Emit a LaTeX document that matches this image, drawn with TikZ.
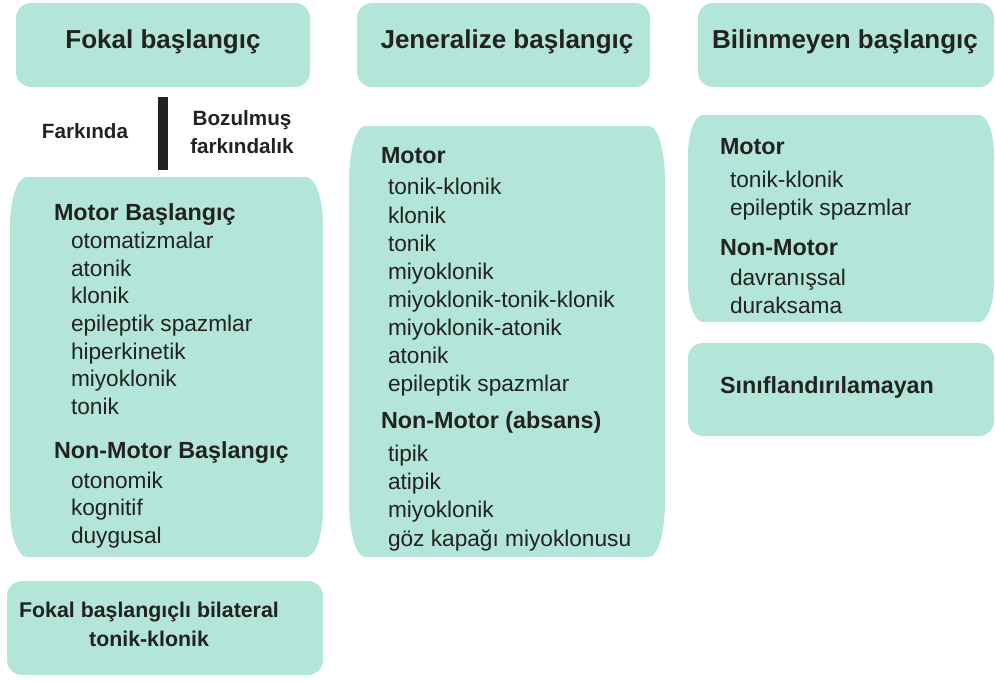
\documentclass[tikz,border=0pt]{standalone}
\usepackage{fontspec}
\setmainfont{Liberation Sans}
\begin{document}
\definecolor{mint}{HTML}{B3E6D8}
\definecolor{ink}{HTML}{222222}
% Soft panel with elliptical corners: x1,y1,x2,y2,rx,ry
\newcommand\softpanel[6]{%
  \fill[mint] (#1+#5,#2) -- (#3-#5,#2)
    .. controls (#3-0.448*#5,#2) and (#3,#2+0.448*#6) .. (#3,#2+#6)
    -- (#3,#4-#6)
    .. controls (#3,#4-0.448*#6) and (#3-0.448*#5,#4) .. (#3-#5,#4)
    -- (#1+#5,#4)
    .. controls (#1+0.448*#5,#4) and (#1,#4-0.448*#6) .. (#1,#4-#6)
    -- (#1,#2+#6)
    .. controls (#1,#2+0.448*#6) and (#1+0.448*#5,#2) .. (#1+#5,#2) -- cycle;}
\begin{tikzpicture}[x=0.75pt,y=-0.75pt,
  every node/.style={inner sep=0pt,outer sep=0pt,text=ink},
  title/.style={font=\fontsize{19.5}{23}\selectfont\bfseries,anchor=base},
  group/.style={font=\fontsize{17.5}{21}\selectfont\bfseries,anchor=base west},
  entry/.style={font=\fontsize{17}{20}\selectfont,anchor=base west},
  aware/.style={font=\fontsize{15.5}{20.5}\selectfont\bfseries,align=center,anchor=base}]
\useasboundingbox (0,0) rectangle (995,681);

% ---- panels ----
\softpanel{16}{3}{310}{87}{15}{15}
\softpanel{357}{3}{650}{87}{15}{15}
\softpanel{698}{3}{994}{87}{15}{15}
\softpanel{10}{177}{323}{557}{17}{48}
\softpanel{7}{581}{323}{675}{15}{15}
\softpanel{349}{126}{665}{557}{16}{55}
\softpanel{688}{115}{994}{322}{15}{40}
\softpanel{688}{343}{994}{436}{15}{15}

% ---- column headings ----
\node[title] (fokal) at (163,49) {Fokal başlangıç};
\node[title] (jen) at (507,49) {Jeneralize başlangıç};
\node[title] (bil) at (845,49) {Bilinmeyen başlangıç};

% ---- awareness split ----
\node[aware] (fark) at (85,139) {Farkında};
\node[aware] (bozuk) at (242,126) {Bozulmuş};
\node[aware] (bozuk2) at (242,153) {farkındalık};
\fill[ink] (158,97) rectangle (168,170);

% ---- focal onset panel ----
\node[group] (fm) at (54,220) {Motor Başlangıç};
\node[entry] (f1) at (71,248) {otomatizmalar};
\node[entry] (f2) at (71,276) {atonik};
\node[entry] (f3) at (71,303) {klonik};
\node[entry] (f4) at (71,331) {epileptik spazmlar};
\node[entry] (f5) at (71,359) {hiperkinetik};
\node[entry] (f6) at (71,386) {miyoklonik};
\node[entry] (f7) at (71,414) {tonik};
\node[group] (fn) at (54,458) {Non-Motor Başlangıç};
\node[entry] (f8) at (71,488) {otonomik};
\node[entry] (f9) at (71,515) {kognitif};
\node[entry] (f10) at (71,543) {duygusal};

\node[aware,font=\fontsize{16}{20}\selectfont\bfseries] (bilat) at (149,617) {Fokal başlangıçlı bilateral};
\node[aware,font=\fontsize{16}{20}\selectfont\bfseries] (bilat2) at (149,646) {tonik-klonik};

% ---- generalized onset panel ----
\node[group] (gm) at (381,163) {Motor};
\node[entry] (g1) at (388,195) {tonik-klonik};
\node[entry] (g2) at (388,223) {klonik};
\node[entry] (g3) at (388,251) {tonik};
\node[entry] (g4) at (388,279) {miyoklonik};
\node[entry] (g5) at (388,307) {miyoklonik-tonik-klonik};
\node[entry] (g6) at (388,335) {miyoklonik-atonik};
\node[entry] (g7) at (388,363) {atonik};
\node[entry] (g8) at (388,391) {epileptik spazmlar};
\node[group] (gn) at (381,428) {Non-Motor (absans)};
\node[entry] (g9) at (388,461) {tipik};
\node[entry] (g10) at (388,489) {atipik};
\node[entry] (g11) at (388,517) {miyoklonik};
\node[entry] (g12) at (388,546) {göz kapağı miyoklonusu};

% ---- unknown onset panel ----
\node[group] (um) at (720,155) {Motor};
\node[entry] (u1) at (730,187) {tonik-klonik};
\node[entry] (u2) at (730,215) {epileptik spazmlar};
\node[group] (un) at (720,255) {Non-Motor};
\node[entry] (u3) at (730,285) {davranışsal};
\node[entry] (u4) at (730,313) {duraksama};

\node[group] (sinif) at (720,393) {Sınıflandırılamayan};
\end{tikzpicture}
\end{document}
